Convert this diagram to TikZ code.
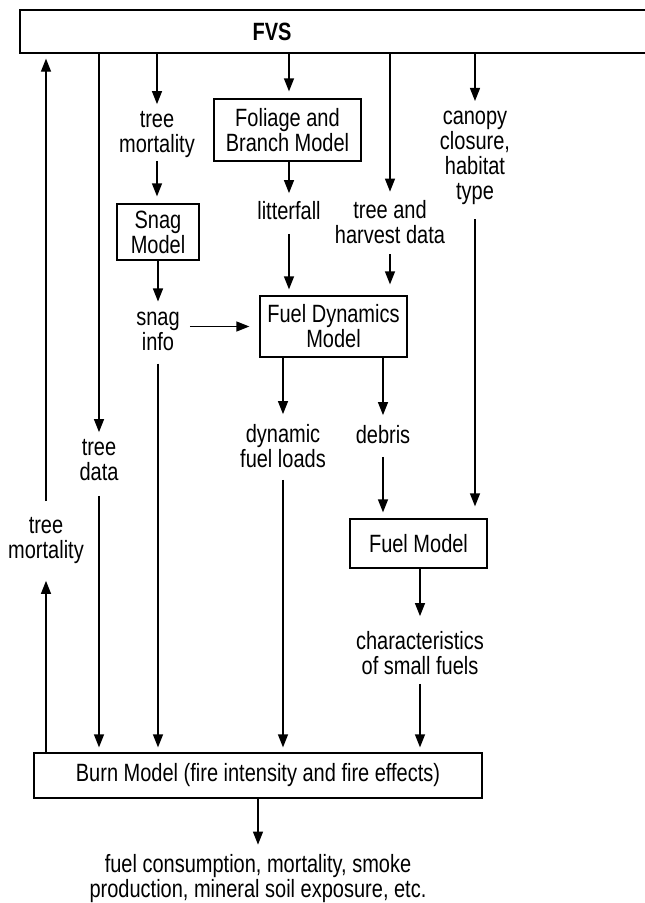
\documentclass[tikz,border=0pt]{standalone}
\usepackage{fontspec}
\setmainfont{Liberation Sans}
\newfontfamily\labfont[FakeStretch=0.8]{Liberation Sans}
\usetikzlibrary{arrows.meta}
\begin{document}
\begin{tikzpicture}[x=1pt,y=-1pt,
  lbl/.style={inner sep=0pt, align=center, font=\labfont\fontsize{25}{25}\selectfont},
  box/.style={draw, line width=1.3pt, inner sep=0pt, align=center, font=\labfont\fontsize{25}{25}\selectfont},
  arr/.style={line width=1.3pt, -{Triangle[length=13pt,width=10pt]}}]
\fill[white] (0,0) rectangle (645,903);
\useasboundingbox (0,0) rectangle (645,903);
% boxes and labels
\node[box, minimum width=640pt, minimum height=43pt] (fvsbox) at (340,31.5) {};
\node[lbl] (fvs) at (272,32) {\bfseries FVS};
\node[lbl] (tmortL) at (46,540.5) {tree\\mortality};
\node[lbl] (tdata) at (99,460) {tree\\data};
\node[lbl] (tmort) at (157,134.5) {tree\\mortality};
\node[box, minimum width=82pt, minimum height=56pt] (snag) at (158,232) {Snag\\Model};
\node[lbl] (snaginfo) at (158,331) {snag\\info};
\node[box, minimum width=147pt, minimum height=62pt] (foliage) at (287.5,130) {Foliage and\\Branch Model};
\node[lbl] (litter) at (289,210.5) {litterfall};
\node[lbl] (harvest) at (390,222.5) {tree and\\harvest data};
\node[lbl] (canopy) at (475,158) {canopy\\closure,\\habitat\\type};
\node[box, minimum width=147pt, minimum height=61pt] (fdm) at (333.5,326.5) {Fuel Dynamics\\Model};
\node[lbl] (dyn) at (283,446) {dynamic\\fuel loads};
\node[lbl] (debris) at (383,434.5) {debris};
\node[box, minimum width=137pt, minimum height=49pt] (fuelm) at (418.5,543.5) {Fuel Model};
\node[lbl] (chars) at (420,653) {characteristics\\of small fuels};
\node[box, minimum width=448pt, minimum height=45pt] (burn) at (258,775.5) {Burn Model (fire intensity and fire effects)};
\node[lbl] (out) at (258,879) {fuel consumption, mortality, smoke\\production, mineral soil exposure, etc.};
% connectors
\draw[arr, shorten >=17pt] (burn.north -| tmortL.south) -- (tmortL.south);
\draw[arr, shorten <=16pt, shorten >=5pt] (tmortL.north) -- (tmortL.north |- fvsbox.south);
\draw[arr, shorten >=7pt] (fvsbox.south -| tdata.north) -- (tdata.north);
\draw[arr, shorten <=15pt, shorten >=5pt] (tdata.south) -- (tdata.south |- burn.north);
\draw[arr, shorten >=7pt] (fvsbox.south -| tmort.north) -- (tmort.north);
\draw[arr, shorten <=3pt, shorten >=7pt] (tmort.south) -- (tmort.south |- snag.north);
\draw[arr, shorten >=10pt] (snag.south) -- (snaginfo.north);
\draw[arr, shorten <=10pt, shorten >=10pt] (fdm.west -| snaginfo.east) -- (fdm.west);
\draw[arr, shorten <=13pt, shorten >=5pt] (snaginfo.south) -- (snaginfo.south |- burn.north);
\draw[arr, shorten >=7pt] (fvsbox.south -| litter.north) -- (litter.north |- foliage.north);
\draw[arr, shorten >=8pt] (foliage.south -| litter.north) -- (litter.north);
\draw[arr, shorten <=14pt, shorten >=6pt] (litter.south) -- (litter.south |- fdm.north);
\draw[arr, shorten >=9pt] (fvsbox.south -| harvest.north) -- (harvest.north);
\draw[arr, shorten <=10pt, shorten >=11pt] (harvest.south) -- (harvest.south |- fdm.north);
\draw[arr, shorten >=10pt] (fvsbox.south -| canopy.north) -- (canopy.north);
\draw[arr, shorten <=14pt, shorten >=12pt] (canopy.south) -- (canopy.south |- fuelm.north);
\draw[arr, shorten >=10pt] (fdm.south -| dyn.north) -- (dyn.north);
\draw[arr, shorten <=12pt, shorten >=5pt] (dyn.south) -- (dyn.south |- burn.north);
\draw[arr, shorten >=10pt] (fdm.south -| debris.north) -- (debris.north);
\draw[arr, shorten <=13pt, shorten >=6pt] (debris.south) -- (debris.south |- fuelm.north);
\draw[arr, shorten >=15pt] (fuelm.south -| chars.north) -- (chars.north);
\draw[arr, shorten <=9pt, shorten >=5pt] (chars.south) -- (chars.south |- burn.north);
\draw[arr, shorten >=10pt] (burn.south) -- (out.north);
\end{tikzpicture}
\end{document}
